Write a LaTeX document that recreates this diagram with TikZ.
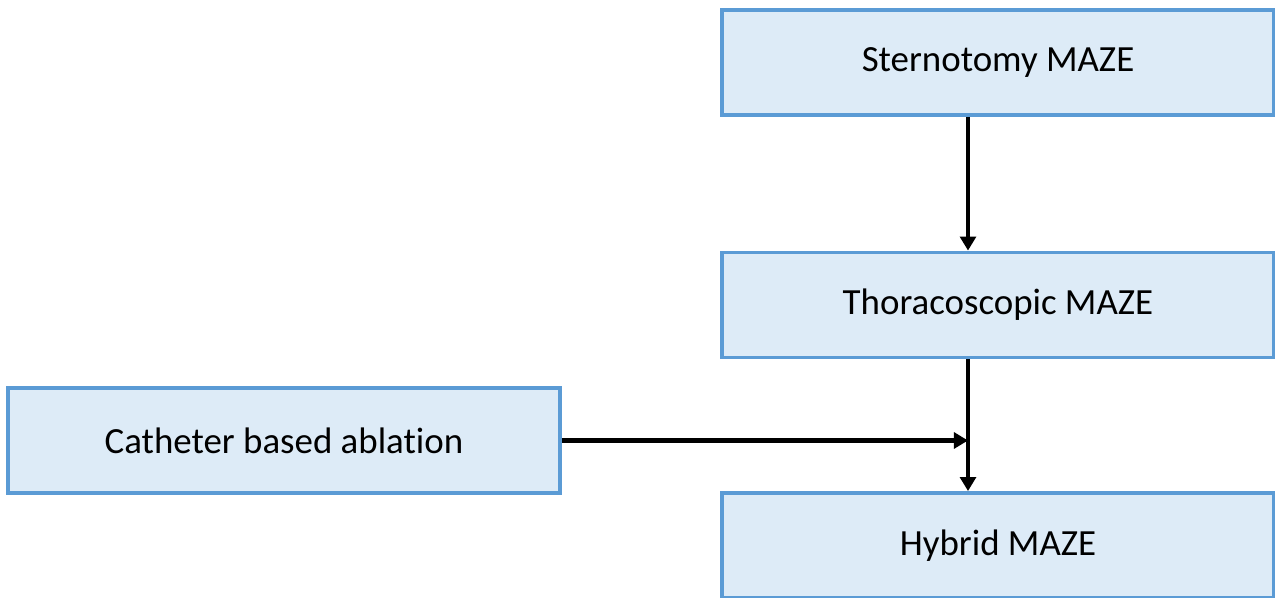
\documentclass[tikz,border=0pt]{standalone}
\usepackage{fontspec}
\setmainfont{Carlito}[RawFeature={-liga}]
\usetikzlibrary{arrows.meta,positioning}
\definecolor{boxblue}{HTML}{5B9BD5}
\definecolor{boxfill}{HTML}{DDEBF7}

\begin{document}
\begin{tikzpicture}[
    box/.style={draw=boxblue, fill=boxfill, line width=2.2pt, minimum width=11.04cm, minimum height=2.1cm, align=center, font=\fontsize{21}{25}\selectfont},
    arr/.style={-{Triangle[length=8pt, width=9pt]}, line width=2.4pt}
]
\useasboundingbox (0,0) rectangle (25.5,-11.96);
\node[box] (stern) at (19.96,-1.25) {Sternotomy MAZE};
\node[box] (thor) at (19.96,-6.1) {Thoracoscopic MAZE};
\node[box] (hyb) at (19.96,-10.91) {Hybrid MAZE};
\node[box] (cath) at (5.68,-8.81) {Catheter based ablation};

\coordinate (join) at (19.36,-8.81);

\draw[arr] (stern.south -| join) -- (thor.north -| join);
\draw[arr] (thor.south -| join) -- (hyb.north -| join);
\draw[arr] (cath.east) -- (join);
\end{tikzpicture}
\end{document}
